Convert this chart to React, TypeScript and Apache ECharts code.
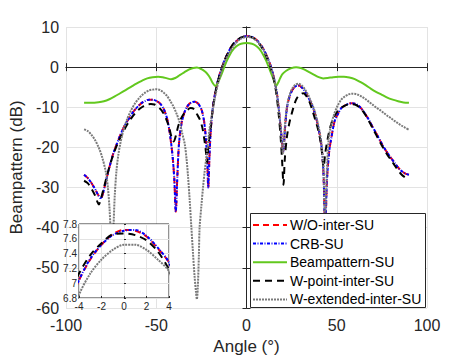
import React, { useEffect, useRef } from "react";
import * as echarts from "echarts";

const seriesNames = ["W/O-inter-SU", "CRB-SU", "Beampattern-SU", "W-point-inter-SU", "W-extended-inter-SU"];

const woInterSU: [number, number][] = [
  [-90, -26.8], [-88, -27.6], [-86, -28.8], [-84, -30.3], [-82, -32.0], [-81, -32.6], [-80, -32.2], [-79, -30.5],
  [-78, -28.6], [-76, -25], [-74, -21.8], [-72, -19.3], [-70, -17.0], [-68, -15.0], [-66, -13.4], [-64, -12.0],
  [-62, -10.7], [-60, -9.7], [-58, -8.9], [-56, -8.4], [-54, -8.1], [-52, -8.1], [-50, -8.4], [-48, -9.0],
  [-46, -10.3], [-44, -12.8], [-42.5, -16.5], [-41, -22], [-40, -28], [-39.2, -36], [-38.3, -27], [-37.4, -19],
  [-36, -14], [-34, -10.8], [-32, -9.3], [-30, -8.7], [-28.8, -8.6], [-27, -9.0], [-25, -10.5], [-23.5, -13.5],
  [-22.4, -18.5], [-21.7, -24], [-21.2, -30], [-20.5, -22], [-19.7, -15], [-18.5, -9.5], [-17, -5.6], [-16, -3.6],
  [-15, -2], [-14, -0.6], [-12, 1.9], [-10, 3.8], [-8, 5.3], [-6, 6.3],
  [-4, 7.04], [-3, 7.32], [-2, 7.52], [-1, 7.66], [0, 7.72], [1, 7.71], [2, 7.63], [3, 7.47], [4, 7.28],
  [6, 6.6], [8, 5.5], [10, 4.0], [12, 2.0], [13, 0.8], [14, -0.6], [15, -2.3], [16, -4.3], [17, -7.0], [18, -11],
  [19, -15.5], [20.3, -21], [21.4, -14.8], [22.3, -10.5], [23.3, -8.2], [25, -6.0], [27, -4.8], [28.8, -4.6],
  [30.5, -5.0], [32, -5.8], [34, -7.3], [36, -9.2], [38, -11.7], [40, -15.5], [41.5, -19.5], [42.6, -26],
  [43.6, -40], [44.6, -28], [45.8, -21], [47, -17.6], [48.8, -13.5], [50.7, -11.6], [52.5, -10.2], [54.3, -9.6],
  [56, -9.2], [58, -9.0], [60, -9.1], [62, -9.6], [64, -10.5], [66, -11.8], [68, -13.3], [70, -15], [72, -16.6],
  [74, -18.3], [76, -19.9], [78, -21.3], [80, -22.6], [82, -23.8], [84, -25], [86, -25.9], [88, -26.5], [90, -26.8],
];

const crbSU: [number, number][] = [
  [-90, -26.8], [-88, -27.6], [-86, -28.8], [-84, -30.3], [-82, -32.0], [-81, -32.6], [-80, -32.2], [-79, -30.5],
  [-78, -28.6], [-76, -25], [-74, -21.8], [-72, -19.3], [-70, -17.0], [-68, -15.0], [-66, -13.4], [-64, -12.0],
  [-62, -10.7], [-60, -9.7], [-58, -8.9], [-56, -8.4], [-54, -8.1], [-52, -8.1], [-50, -8.4], [-48, -9.0],
  [-46, -10.3], [-44, -12.8], [-42.5, -16.5], [-41, -22], [-40, -28], [-39.2, -36], [-38.3, -27], [-37.4, -19],
  [-36, -14], [-34, -10.8], [-32, -9.3], [-30, -8.7], [-28.8, -8.6], [-27, -9.0], [-25, -10.5], [-23.5, -13.5],
  [-22.4, -18.5], [-21.7, -24], [-21.2, -30], [-20.5, -22], [-19.7, -15], [-18.5, -9.5], [-17, -5.6], [-16, -3.6],
  [-15, -2], [-14, -0.6], [-12, 1.9], [-10, 3.8], [-8, 5.3], [-6, 6.3],
  [-4, 7.04], [-3, 7.33], [-2, 7.52], [-1, 7.65], [0, 7.71], [1, 7.72], [2, 7.64], [3, 7.48], [4, 7.28],
  [6, 6.6], [8, 5.5], [10, 4.0], [12, 2.0], [13, 0.8], [14, -0.6], [15, -2.3], [16, -4.3], [17, -7.0], [18, -11],
  [19, -15.5], [20.3, -21], [21.4, -14.8], [22.3, -10.5], [23.3, -8.2], [25, -6.0], [27, -4.8], [28.8, -4.6],
  [30.5, -5.0], [32, -5.8], [34, -7.3], [36, -9.2], [38, -11.7], [40, -15.5], [41.5, -19.5], [42.6, -26],
  [43.6, -40], [44.6, -28], [45.8, -21], [47, -17.6], [48.8, -13.5], [50.7, -11.6], [52.5, -10.2], [54.3, -9.6],
  [56, -9.2], [58, -9.0], [60, -9.1], [62, -9.6], [64, -10.5], [66, -11.8], [68, -13.3], [70, -15], [72, -16.6],
  [74, -18.3], [76, -19.9], [78, -21.3], [80, -22.6], [82, -23.8], [84, -25], [86, -25.9], [88, -26.5], [90, -26.8],
];

const beampatternSU: [number, number][] = [
  [-90, -8.9], [-86, -8.9], [-82, -8.75], [-79, -8.5], [-76, -8.0], [-73, -7.3], [-70, -6.5], [-67, -5.7],
  [-64, -4.9], [-61, -4.1], [-58, -3.4], [-55, -2.8], [-52, -2.5], [-49, -2.4], [-46.5, -2.5], [-44, -2.8],
  [-41.8, -3.0], [-39.5, -2.7], [-37, -2.0], [-34.5, -1.3], [-32, -0.6], [-29.5, -0.2], [-27.5, -0.1],
  [-25, -0.5], [-23, -1.1], [-21.5, -1.8], [-20, -2.8], [-18.8, -3.9], [-17.2, -4.7], [-16, -4.0],
  [-14.5, -2.5], [-13, -0.8], [-11, 1.5], [-9, 3.3], [-7, 4.6], [-5, 5.4], [-3, 5.85], [0, 6.0], [3, 5.85],
  [5, 5.4], [7, 4.6], [9, 3.3], [11, 1.5], [13, -0.8], [14.5, -2.5], [15.6, -3.9], [16.4, -4.7], [17.5, -3.9],
  [18.6, -2.8], [20, -1.7], [22, -0.9], [24.5, -0.3], [27.5, 0], [30, -0.2], [32.5, -0.7], [35, -1.3],
  [37.5, -1.9], [40, -2.5], [42.5, -2.8], [45, -2.7], [48, -2.5], [51, -2.4], [54, -2.4], [57, -2.6], [60, -3.0],
  [63, -3.7], [66, -4.5], [69, -5.4], [72, -6.2], [75, -6.9], [78, -7.6], [81, -8.1], [84, -8.5], [87, -8.8],
  [90, -8.9],
];

const wPointInterSU: [number, number][] = [
  [-90, -28.3], [-88, -28.9], [-86, -30.2], [-84, -31.9], [-82.5, -33.7], [-81.8, -34.2], [-80.5, -32.5],
  [-79, -30.0], [-77, -26.5], [-75, -23.4], [-73, -20.8], [-71, -18.6], [-69, -16.7], [-67, -15], [-65, -13.5],
  [-63, -12.2], [-61, -11.1], [-59, -10.3], [-57, -9.7], [-55, -9.3], [-53, -9.2], [-51, -9.3], [-49, -9.9],
  [-47, -10.8], [-45, -12.4], [-43, -14.8], [-41.5, -17.5], [-40.3, -18.5], [-39, -16.8], [-37.9, -14.8],
  [-36.5, -13], [-35, -11.8], [-33, -10.8], [-31, -10.2], [-29, -10.5], [-27.5, -11.7], [-26, -12.9],
  [-24.5, -15], [-23.3, -18.2], [-22.4, -21.4], [-21.9, -23.8], [-21.2, -20], [-20.3, -16.5], [-19.7, -14.5],
  [-18.5, -9.8], [-17, -5.8], [-16, -3.8], [-15, -2.1], [-14, -0.7], [-12, 1.8], [-10, 3.8], [-8, 5.4], [-6, 6.5],
  [-4, 7.13], [-3, 7.38], [-2, 7.54], [-1, 7.66], [0, 7.67], [1, 7.65], [2, 7.58], [3, 7.43], [4, 7.18],
  [6, 6.4], [8, 5.2], [10, 3.6], [12, 1.6], [13, 0.3], [14, -1.1], [15, -2.8], [16, -5], [17, -8.2], [18, -12.5],
  [19, -18], [19.8, -24], [20.5, -29.3], [21.2, -23], [22.4, -17.3], [23.7, -14], [25.1, -11.5], [26.5, -9.3],
  [27.8, -7.8], [29.5, -6.9], [31.5, -6.5], [33, -7.1], [35, -8.8], [37, -11.5], [39.7, -15.6], [41, -18.5],
  [42, -22], [42.7, -25], [43.6, -21.5], [45.2, -17.3], [46.5, -14.8], [48, -12.8], [50, -11.3], [52, -10.3],
  [54, -9.7], [56, -9.3], [58, -9.2], [60, -9.3], [62, -9.8], [64, -10.7], [66, -12.0], [68, -13.6], [70, -15.3],
  [72, -17], [74, -18.7], [76, -20.3], [78, -21.8], [80, -23.1], [82, -24.4], [84, -25.7], [86, -26.8],
  [88, -27.5], [90, -28],
];

const wExtendedInterSU: [number, number][] = [
  [-90, -15.5], [-88, -15.9], [-86, -16.8], [-84, -18.1], [-82, -19.9], [-80, -22.4], [-78, -26], [-76.8, -30],
  [-75.8, -36], [-75, -44], [-74.4, -50], [-73.7, -40], [-73, -32], [-72, -25.5], [-71, -21.8], [-70, -19.2],
  [-68, -15.4], [-66, -12.8], [-64, -10.8], [-62, -9.2], [-60, -8.0], [-58, -7.0], [-56, -6.3], [-54, -5.8],
  [-52, -5.6], [-50, -5.5], [-48, -5.7], [-46, -6.3], [-44, -7.2], [-42, -8.6], [-40.7, -9.6], [-39, -11.3],
  [-37, -13.8], [-35.5, -16.7], [-34.2, -19.2], [-33.2, -23], [-32.4, -27.2], [-31.5, -33], [-30.6, -39.6],
  [-29.7, -46], [-28.8, -52], [-28, -56], [-27.5, -57.8], [-27, -55], [-26.4, -47], [-26, -40], [-25, -34.5],
  [-24, -29.5], [-23.2, -26], [-22.4, -23], [-21.5, -19.5], [-20.5, -15.5], [-19.5, -12.8], [-18.7, -10.7],
  [-17.5, -7.6], [-16, -4.5], [-14, -1.2], [-12.3, 1.2], [-10, 3.2], [-8, 4.7], [-6, 5.9],
  [-4, 6.84], [-3, 7.13], [-2, 7.32], [-1, 7.45], [0, 7.52], [1, 7.52], [2, 7.45], [3, 7.32], [4, 7.16],
  [6, 6.4], [8, 5.3], [10, 3.8], [12, 1.8], [13, 0.6], [14, -0.8], [15, -2.5], [16, -4.5], [17, -7.3], [18, -11],
  [19, -15.5], [20.2, -21.5], [21.3, -14.5], [22.3, -10.3], [23.3, -7.8], [25, -5.6], [27, -4.4], [28.8, -4.1],
  [30.5, -4.5], [32, -5.3], [34, -6.8], [36, -8.8], [38, -11.3], [40, -15], [41.5, -19], [42.6, -25],
  [43.5, -38], [44.5, -26], [45.5, -18], [46.8, -14.5], [48.5, -11.8], [50.5, -9.6], [52.5, -8.1], [54.5, -7.3],
  [56.5, -6.8], [58.5, -6.6], [60.5, -6.7], [62, -6.9], [64, -7.4], [66, -8.0], [68, -8.7], [70, -9.4],
  [72, -10.1], [74, -10.7], [76, -11.4], [78, -12.1], [80, -12.7], [82, -13.4], [84, -14.0], [86, -14.6],
  [88, -15.1], [90, -15.6],
];

const seriesData = [woInterSU, crbSU, beampatternSU, wPointInterSU, wExtendedInterSU];

const FONT = "'Liberation Sans', Arial, Helvetica, sans-serif";
const AX = "#262626";
const GRID_C = "#e3e3e3";

const styles = [
  { color: "#ff0000", width: 2, dash: [6, 4] as number[] | null },
  { color: "#0000ff", width: 2, dash: [3, 1.5, 1, 1.5] as number[] | null },
  { color: "#62c81e", width: 2, dash: null as number[] | null },
  { color: "#000000", width: 2, dash: [7, 5] as number[] | null },
  { color: "#7a7a7a", width: 2, dash: [2, 1] as number[] | null },
];

export default function App() {
  const ref = useRef<HTMLDivElement>(null);
  useEffect(() => {
    if (!ref.current) return;
    const chart = echarts.init(ref.current, undefined, { renderer: "svg" });

    const lineStyleOf = (i: number) => ({
      color: styles[i].color,
      width: styles[i].width,
      type: styles[i].dash ? styles[i].dash : "solid",
    });

    const mainSeries = seriesNames.map((name, i) => ({
      name,
      type: "line",
      xAxisIndex: 0,
      yAxisIndex: 0,
      data: seriesData[i],
      symbol: "none",
      showSymbol: false,
      smooth: 0.3,
      lineStyle: lineStyleOf(i),
      z: 2,
      silent: true,
    }));

    const insetSeries = seriesNames
      .map((name, i) => ({ name, i }))
      .filter((d) => d.i !== 2)
      .map(({ name, i }) => ({
        name: name + " (zoom)",
        type: "line",
        xAxisIndex: 2,
        yAxisIndex: 2,
        data: seriesData[i].filter((p) => p[0] >= -6 && p[0] <= 6),
        symbol: "none",
        showSymbol: false,
        smooth: 0.3,
        clip: true,
        lineStyle: lineStyleOf(i),
        z: 8,
        silent: true,
      }));

    // legend drawn as graphic (box, line samples, texts)
    const LX = 250.5, LY = 213.5, LW = 175, LH = 94;
    const rowY0 = 225, rowStep = 18.6;
    const legendChildren: any[] = [
      {
        type: "rect",
        z: 20,
        shape: { x: LX, y: LY, width: LW, height: LH },
        style: { fill: "#ffffff", stroke: AX, lineWidth: 1 },
      },
    ];
    seriesNames.forEach((name, i) => {
      const y = rowY0 + i * rowStep;
      legendChildren.push({
        type: "line",
        z: 21,
        shape: { x1: 253, y1: y, x2: 287, y2: y },
        style: {
          stroke: styles[i].color,
          lineWidth: styles[i].width,
          lineDash: styles[i].dash || undefined,
        },
      });
      legendChildren.push({
        type: "text",
        z: 21,
        x: 290,
        y: y,
        style: {
          text: name,
          fill: "#000000",
          font: `14px ${FONT}`,
          verticalAlign: "middle",
          align: "left",
        },
      });
    });

    const mainAxisCommon = {
      axisLine: { show: true, lineStyle: { color: AX, width: 1 } },
      axisTick: { show: true, inside: true, length: 4, lineStyle: { color: AX } },
      axisLabel: { color: AX, fontSize: 16, fontFamily: FONT },
    };

    chart.setOption({
      animation: false,
      backgroundColor: "#ffffff",
      textStyle: { fontFamily: FONT },
      grid: [
        { left: 62, top: 27, width: 365, height: 282, show: false },
        {
          left: 79, top: 224, width: 90, height: 74, show: true,
          backgroundColor: "#ffffff", borderColor: AX, borderWidth: 1, z: 5,
        },
      ],
      xAxis: [
        {
          type: "value", gridIndex: 0, min: -100, max: 100, interval: 50, position: "bottom",
          ...mainAxisCommon,
          axisLabel: { ...mainAxisCommon.axisLabel, margin: 9 },
          splitLine: { show: true, lineStyle: { color: GRID_C, width: 1 } },
          name: "Angle (°)", nameLocation: "middle", nameGap: 30,
          nameTextStyle: { color: AX, fontSize: 17, fontFamily: FONT },
        },
        {
          type: "value", gridIndex: 0, min: -100, max: 100, interval: 50, position: "top",
          ...mainAxisCommon,
          axisLabel: { show: false },
          splitLine: { show: false },
        },
        {
          type: "value", gridIndex: 1, min: -4, max: 4, interval: 2, position: "bottom", z: 6,
          axisLine: { show: false },
          axisTick: { show: true, inside: true, length: 2, lineStyle: { color: AX } },
          axisLabel: { color: AX, fontSize: 10, fontFamily: FONT, margin: 3 },
          splitLine: { show: true, lineStyle: { color: GRID_C, width: 1 } },
        },
      ],
      yAxis: [
        {
          type: "value", gridIndex: 0, min: -60, max: 10, interval: 10, position: "left",
          ...mainAxisCommon,
          axisLabel: { ...mainAxisCommon.axisLabel, margin: 7 },
          splitLine: { show: true, lineStyle: { color: GRID_C, width: 1 } },
          name: "Beampattern (dB)", nameLocation: "middle", nameGap: 36, nameRotate: 90,
          nameTextStyle: { color: AX, fontSize: 17, fontFamily: FONT },
        },
        {
          type: "value", gridIndex: 0, min: -60, max: 10, interval: 10, position: "right",
          ...mainAxisCommon,
          axisLabel: { show: false },
          splitLine: { show: false },
        },
        {
          type: "value", gridIndex: 1, min: 6.8, max: 7.8, interval: 0.2, position: "left", z: 6,
          axisLine: { show: false },
          axisTick: { show: true, inside: true, length: 2, lineStyle: { color: AX } },
          axisLabel: { color: AX, fontSize: 10, fontFamily: FONT, margin: 2 },
          splitLine: { show: true, lineStyle: { color: GRID_C, width: 1 } },
        },
      ],
      graphic: [
        { type: "group", z: 20, silent: true, children: legendChildren },
      ],
      series: [...mainSeries, ...insetSeries],
    });
    return () => chart.dispose();
  }, []);
  return (
    <div
      ref={ref}
      style={{ position: "absolute", left: 0, top: 0, width: 471, height: 360 }}
    />
  );
}
